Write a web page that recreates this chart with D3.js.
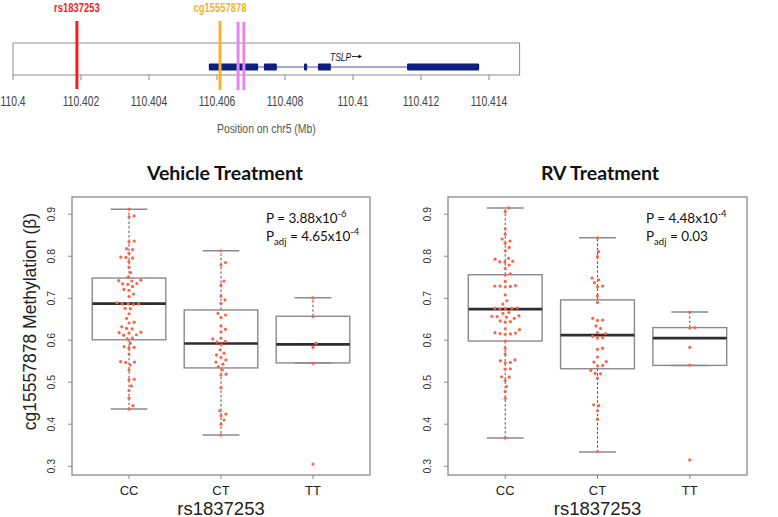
<!DOCTYPE html>
<html><head><meta charset="utf-8">
<script src="https://cdn.jsdelivr.net/npm/d3@7"></script>
<style>body{margin:0;background:#fff}svg{display:block}</style>
</head><body>
<script>
// ================= DATA =================
// genomic track
const trackTicks = [110.4, 110.402, 110.404, 110.406, 110.408, 110.41, 110.412, 110.414];
const trackTickLabels = ["110.4","110.402","110.404","110.406","110.408","110.41","110.412","110.414"];
const trackExtent = [110.4, 110.4149];
const snpName = "rs1837253";
const snpPos = 110.40188;
const cpgName = "cg15557878";
const cpgPos = 110.40609;
const otherCpgPos = [110.40662, 110.40679];
const exonStart = [110.40576, 110.40738, 110.40856, 110.40897, 110.41159];
const exonEnd   = [110.40721, 110.40776, 110.40865, 110.40935, 110.41371];
const geneName = "TSLP";

// box plots
const genotypes = ["CC", "CT", "TT"];
const yTicks = [0.3, 0.4, 0.5, 0.6, 0.7, 0.8, 0.9];

const vehicleCC = [0.912,0.896,0.894,0.836,0.834,0.818,0.816,0.807,0.798,0.797,0.796,0.787,0.774,0.761,0.750,0.743,0.742,0.741,0.735,0.734,0.733,0.728,0.721,0.719,0.710,0.704,0.689,0.687,0.686,0.686,0.685,0.676,0.675,0.663,0.652,0.643,0.641,0.632,0.628,0.627,0.619,0.618,0.617,0.613,0.612,0.605,0.603,0.593,0.585,0.583,0.581,0.567,0.549,0.548,0.547,0.541,0.529,0.507,0.506,0.491,0.480,0.462,0.444,0.436];
const vehicleCT = [0.813,0.785,0.779,0.741,0.731,0.705,0.696,0.688,0.664,0.660,0.654,0.634,0.626,0.620,0.605,0.603,0.597,0.596,0.589,0.577,0.569,0.565,0.559,0.553,0.548,0.543,0.537,0.529,0.519,0.517,0.487,0.432,0.424,0.420,0.410,0.400,0.374];
const vehicleTT = [0.701,0.656,0.593,0.583,0.545,0.305];
const vehicleLowWhisker = [0.436, 0.374, 0.546];
const vehicleQ1         = [0.601, 0.534, 0.546];
const vehicleMedian     = [0.687, 0.592, 0.590];
const vehicleQ3         = [0.748, 0.672, 0.657];
const vehicleHighWhisker= [0.912, 0.813, 0.701];

const rvCC = [0.915,0.906,0.865,0.852,0.841,0.836,0.831,0.821,0.813,0.795,0.793,0.788,0.787,0.786,0.779,0.771,0.758,0.755,0.740,0.730,0.729,0.729,0.728,0.727,0.708,0.694,0.686,0.677,0.676,0.676,0.675,0.674,0.666,0.664,0.658,0.657,0.656,0.655,0.652,0.646,0.644,0.643,0.627,0.625,0.618,0.617,0.616,0.615,0.614,0.598,0.581,0.567,0.553,0.551,0.547,0.546,0.532,0.531,0.513,0.512,0.504,0.490,0.478,0.462,0.367];
const rvCT = [0.844,0.811,0.799,0.748,0.744,0.737,0.729,0.727,0.706,0.690,0.652,0.648,0.647,0.634,0.628,0.618,0.616,0.609,0.606,0.605,0.581,0.578,0.560,0.549,0.548,0.540,0.539,0.528,0.521,0.520,0.510,0.446,0.444,0.432,0.412,0.335];
const rvTT = [0.667,0.630,0.629,0.583,0.541,0.315];
const rvLowWhisker = [0.367, 0.334, 0.540];
const rvQ1         = [0.598, 0.532, 0.540];
const rvMedian     = [0.674, 0.612, 0.605];
const rvQ3         = [0.756, 0.696, 0.630];
const rvHighWhisker= [0.915, 0.844, 0.667];

const panelTitles = ["Vehicle Treatment", "RV Treatment"];
const pLabels = [["3.88x10", "-6"], ["4.48x10", "-4"]];
const pAdjLabels = [["4.65x10", "-4"], ["0.03", ""]];
const yTitle = "cg15557878 Methylation (\u03B2)";
const xTitle = "rs1837253";

// ================= DRAW =================
const W = 778, H = 517;
const svg = d3.select("body").append("svg").attr("width", W).attr("height", H);
const sans = "Liberation Sans, Arial, sans-serif";

// ---------- genomic track ----------
const tx = d3.scaleLinear().domain([110.4, 110.414]).range([13, 489]);
const frameTop = 43, frameBot = 75, geneY = 67;
const trk = svg.append("g");
trk.append("rect").attr("x", tx(trackExtent[0])).attr("y", frameTop)
  .attr("width", tx(trackExtent[1]) - tx(trackExtent[0])).attr("height", frameBot - frameTop)
  .attr("fill", "#fff").attr("stroke", "#8c8c8c").attr("stroke-width", 1);
trk.selectAll(".tk").data(trackTicks).join("line")
  .attr("x1", d => tx(d)).attr("x2", d => tx(d)).attr("y1", frameBot).attr("y2", frameBot + 5)
  .attr("stroke", "#8c8c8c");
trk.selectAll(".tl").data(trackTicks).join("text")
  .attr("transform", d => `translate(${tx(d)},106) scale(0.74,1)`)
  .attr("text-anchor", "middle").attr("font-family", sans)
  .attr("font-size", 14).attr("fill", "#444")
  .text((d, i) => trackTickLabels[i]);
trk.append("text")
  .attr("transform", `translate(${(tx(trackExtent[0]) + tx(trackExtent[1])) / 2},132.5) scale(0.77,1)`)
  .attr("text-anchor", "middle").attr("font-family", sans)
  .attr("font-size", 13.5).attr("fill", "#555").text("Position on chr5 (Mb)");
// gene model
trk.append("line").attr("x1", tx(d3.min(exonStart))).attr("x2", tx(d3.max(exonEnd)))
  .attr("y1", geneY).attr("y2", geneY).attr("stroke", "#4455bb").attr("stroke-width", 1.2);
trk.selectAll(".ex").data(exonStart).join("rect")
  .attr("x", d => tx(d)).attr("width", (d, i) => tx(exonEnd[i]) - tx(d))
  .attr("y", geneY - 3.5).attr("height", 7).attr("rx", 1)
  .attr("fill", "#0c1f7e");
trk.append("text").attr("transform", "translate(330,60.5) scale(0.74,1)")
  .attr("font-family", sans).attr("font-size", 11.5)
  .attr("font-style", "italic").attr("fill", "#111").text(geneName);
trk.append("line").attr("x1", 352).attr("x2", 361).attr("y1", 56.5).attr("y2", 56.5)
  .attr("stroke", "#111").attr("stroke-width", 0.9);
trk.append("path").attr("d", "M362,56.5 l-3.5,-2 l0,4 z").attr("fill", "#111");
// SNP & CpG lines
trk.append("line").attr("x1", tx(snpPos)).attr("x2", tx(snpPos)).attr("y1", 21).attr("y2", 89)
  .attr("stroke", "#ff1a1a").attr("stroke-width", 3);
trk.append("line").attr("x1", tx(cpgPos)).attr("x2", tx(cpgPos)).attr("y1", 21).attr("y2", 90)
  .attr("stroke", "#f5b22b").attr("stroke-width", 3);
trk.selectAll(".oc").data(otherCpgPos).join("line")
  .attr("x1", d => tx(d)).attr("x2", d => tx(d)).attr("y1", 22).attr("y2", 90)
  .attr("stroke", "#e486f0").attr("stroke-width", 3);
trk.append("text").attr("transform", `translate(${tx(snpPos)},11.5) scale(0.7,1)`)
  .attr("text-anchor", "middle").attr("font-family", sans).attr("font-weight", "bold")
  .attr("font-size", 13.5).attr("fill", "#ff1a1a").text(snpName);
trk.append("text").attr("transform", `translate(${tx(cpgPos)},11.5) scale(0.7,1)`)
  .attr("text-anchor", "middle").attr("font-family", sans).attr("font-weight", "bold")
  .attr("font-size", 13.5).attr("fill", "#f5b22b").text(cpgName);

// ---------- box plot panels ----------
function swarm(vals, y, d) {
  const idx = vals.map((v, i) => i).sort((a, b) => vals[a] - vals[b]);
  const placed = [], out = new Array(vals.length);
  for (const i of idx) {
    const py = y(vals[i]);
    const forb = [];
    for (const p of placed) {
      const dy = Math.abs(p.y - py);
      if (dy < d) { const w = Math.sqrt(d * d - dy * dy); forb.push([p.x - w, p.x + w]); }
    }
    const cands = [0];
    forb.forEach(f => cands.push(f[0], f[1]));
    cands.sort((a, b) => Math.abs(a) - Math.abs(b) || b - a);
    let best = 0;
    for (const c of cands) {
      if (forb.every(f => c <= f[0] + 1e-6 || c >= f[1] - 1e-6)) { best = c; break; }
    }
    placed.push({ x: best, y: py });
    out[i] = best;
  }
  return out;
}

const yDomain = [0.279, 0.941];
function drawPanel(cfg) {
  const g = svg.append("g");
  const x = d3.scaleLinear().domain([0.38, 3.62]).range([cfg.x0, cfg.x1]);
  const y = d3.scaleLinear().domain(yDomain).range([cfg.y1, cfg.y0]);
  const bw = 0.4;
  genotypes.forEach((gt, i) => {
    const c = i + 1;
    const lo = cfg.low[i], q1 = cfg.q1[i], md = cfg.med[i], q3 = cfg.q3[i], hi = cfg.high[i];
    g.append("line").attr("x1", x(c)).attr("x2", x(c)).attr("y1", y(q3)).attr("y2", y(hi))
      .attr("stroke", "#555").attr("stroke-dasharray", "2.5,2").attr("stroke-width", 1);
    g.append("line").attr("x1", x(c)).attr("x2", x(c)).attr("y1", y(q1)).attr("y2", y(lo))
      .attr("stroke", "#555").attr("stroke-dasharray", "2.5,2").attr("stroke-width", 1);
    [lo, hi].forEach(v => g.append("line").attr("x1", x(c - bw / 2)).attr("x2", x(c + bw / 2))
      .attr("y1", y(v)).attr("y2", y(v)).attr("stroke", "#8a8a8a").attr("stroke-width", 1.5));
    g.append("rect").attr("x", x(c - bw)).attr("width", x(c + bw) - x(c - bw))
      .attr("y", y(q3)).attr("height", y(q1) - y(q3))
      .attr("fill", "none").attr("stroke", "#8a8a8a").attr("stroke-width", 1.4);
    g.append("line").attr("x1", x(c - bw)).attr("x2", x(c + bw)).attr("y1", y(md)).attr("y2", y(md))
      .attr("stroke", "#2e2e2e").attr("stroke-width", 2.6);
  });
  cfg.series.forEach((vals, i) => {
    const offs = swarm(vals, y, 5.2);
    g.selectAll(null).data(vals).join("circle")
      .attr("cx", (d, j) => x(i + 1) + offs[j]).attr("cy", d => y(d)).attr("r", 1.6)
      .attr("fill", "#ff6347");
  });
  g.append("rect").attr("x", cfg.x0).attr("y", cfg.y0).attr("width", cfg.x1 - cfg.x0)
    .attr("height", cfg.y1 - cfg.y0).attr("fill", "none").attr("stroke", "#8a8a8a").attr("stroke-width", 1.3);
  g.selectAll(null).data(yTicks).join("line")
    .attr("x1", cfg.x0 - 4).attr("x2", cfg.x0).attr("y1", d => y(d)).attr("y2", d => y(d))
    .attr("stroke", "#8a8a8a");
  g.selectAll(null).data(yTicks).join("text")
    .attr("transform", d => `translate(${cfg.x0 - 17},${y(d)}) rotate(-90)`)
    .attr("text-anchor", "middle").attr("font-family", sans)
    .attr("font-size", 10.5).attr("fill", "#333").text(d => d.toFixed(1));
  g.selectAll(null).data(genotypes).join("line")
    .attr("x1", (d, i) => x(i + 1)).attr("x2", (d, i) => x(i + 1))
    .attr("y1", cfg.y1).attr("y2", cfg.y1 + 4).attr("stroke", "#8a8a8a");
  g.selectAll(null).data(genotypes).join("text")
    .attr("x", (d, i) => x(i + 1)).attr("y", cfg.y1 + 20)
    .attr("text-anchor", "middle").attr("font-family", sans)
    .attr("font-size", 13).attr("fill", "#222").text(d => d);
  g.append("text").attr("x", x(2)).attr("y", cfg.y1 + 39.5)
    .attr("text-anchor", "middle").attr("font-family", sans)
    .attr("font-size", 18.5).attr("fill", "#222").text(xTitle);
  g.append("text").attr("x", cfg.titleX).attr("y", 180)
    .attr("text-anchor", "middle").attr("font-family", "Lato, sans-serif").attr("font-weight", "bold")
    .attr("font-size", 19.5).attr("fill", "#111").text(cfg.title);
  const ff = "Lato, sans-serif";
  const t1 = g.append("text").attr("x", cfg.annX).attr("y", 223)
    .attr("font-family", ff).attr("font-size", 13.5).attr("fill", "#111");
  t1.append("tspan").text("P = " + cfg.p[0]);
  t1.append("tspan").attr("dy", -6).attr("font-size", 9.5).text(cfg.p[1]);
  const t2 = g.append("text").attr("x", cfg.annX).attr("y", 240.5)
    .attr("font-family", ff).attr("font-size", 13.5).attr("fill", "#111");
  t2.append("tspan").text("P");
  t2.append("tspan").attr("dy", 4).attr("font-size", 9.5).text("adj");
  t2.append("tspan").attr("dy", -4).text(" = " + cfg.padj[0]);
  if (cfg.padj[1]) t2.append("tspan").attr("dy", -6).attr("font-size", 9.5).text(cfg.padj[1]);
}

drawPanel({ x0: 72, x1: 370, y0: 197, y1: 475, titleX: 225, annX: 266,
  title: panelTitles[0], p: pLabels[0], padj: pAdjLabels[0],
  series: [vehicleCC, vehicleCT, vehicleTT],
  low: vehicleLowWhisker, q1: vehicleQ1, med: vehicleMedian, q3: vehicleQ3, high: vehicleHighWhisker });
drawPanel({ x0: 448, x1: 747, y0: 197, y1: 475, titleX: 600, annX: 646,
  title: panelTitles[1], p: pLabels[1], padj: pAdjLabels[1],
  series: [rvCC, rvCT, rvTT],
  low: rvLowWhisker, q1: rvQ1, med: rvMedian, q3: rvQ3, high: rvHighWhisker });

svg.append("text").attr("transform", "translate(35.5,321.5) rotate(-90)")
  .attr("text-anchor", "middle").attr("font-family", sans)
  .attr("font-size", 17.5).attr("fill", "#222").text(yTitle);
</script>
</body></html>
